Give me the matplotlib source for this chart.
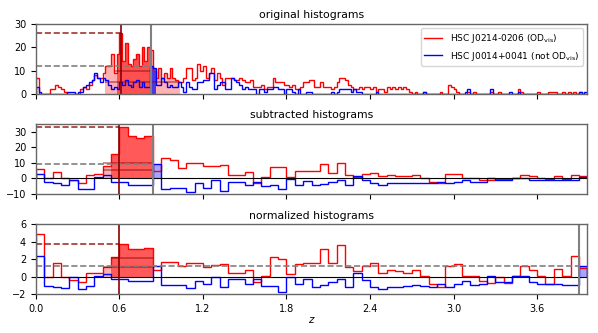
import numpy as np
import matplotlib
matplotlib.use('Agg')
import matplotlib.pyplot as plt

# ---- data ----
# original histograms, bin width 0.02 (z = 0 .. 3.96)
red_top = [
    7, 0, 0, 0, 0, 2, 2, 4, 3, 2,
    1, 0, 0, 0, 0, 0, 2, 3, 2, 4,
    6, 8, 7, 7, 9, 12, 12, 17, 9, 17,
    26, 14, 22, 13, 12, 15, 17, 12, 20, 14,
    20, 19, 10, 7, 11, 7, 9, 7, 11, 7,
    6, 5, 5, 7, 11, 11, 6, 7, 13, 10,
    12, 7, 9, 11, 6, 9, 7, 4, 7, 7,
    7, 6, 6, 7, 6, 5, 5, 6, 3, 3,
    3, 4, 2, 3, 3, 7, 5, 5, 5, 4,
    4, 3, 4, 2, 2, 3, 5, 5, 6, 6,
    3, 3, 5, 3, 3, 3, 2, 3, 5, 7,
    7, 6, 4, 3, 2, 2, 3, 2, 3, 3,
    2, 3, 1, 2, 2, 1, 3, 2, 3, 2,
    3, 2, 3, 2, 1, 0, 1, 0, 0, 1,
    0, 0, 0, 0, 0, 1, 0, 0, 4, 3,
    2, 1, 0, 0, 0, 1, 0, 1, 0, 0,
    0, 0, 0, 1, 0, 0, 1, 0, 0, 0,
    0, 0, 0, 2, 1, 0, 0, 0, 0, 0,
    1, 0, 0, 0, 1, 1, 1, 0, 0, 1,
    0, 1, 0, 1, 0, 1, 0, 0]
blue_top = [
    3, 1, 0, 0, 0, 0, 0, 0, 0, 0,
    0, 1, 1, 1, 0, 1, 1, 3, 4, 5,
    6, 9, 7, 5, 7, 6, 4, 2, 3, 2,
    5, 4, 6, 4, 3, 5, 6, 3, 5, 3,
    3, 12, 11, 4, 4, 7, 5, 3, 4, 3,
    3, 5, 3, 1, 5, 3, 2, 2, 5, 5,
    6, 6, 9, 9, 2, 4, 5, 5, 2, 2,
    7, 6, 5, 4, 2, 3, 2, 2, 2, 0,
    2, 2, 1, 2, 2, 3, 3, 2, 2, 0,
    2, 2, 1, 0, 2, 0, 0, 1, 1, 0,
    0, 0, 0, 0, 0, 0, 1, 0, 1, 2,
    2, 2, 2, 1, 2, 1, 1, 0, 0, 0,
    0, 0, 1, 0, 0, 0, 0, 0, 0, 0,
    0, 0, 0, 0, 0, 0, 0, 0, 0, 1,
    0, 0, 0, 0, 0, 0, 0, 0, 0, 0,
    0, 0, 0, 0, 1, 2, 0, 0, 0, 0,
    0, 0, 0, 2, 0, 0, 0, 0, 0, 0,
    1, 0, 0, 1, 0, 0, 0, 0, 0, 0,
    0, 0, 0, 0, 0, 0, 0, 0, 0, 0,
    0, 0, 0, 0, 0, 1, 0, 1]

# subtracted histograms, bin width 0.06
red_sub = [
    6, 0, 4, 0, -1, -3, 2, 3, 8, 16,
    33, 27, 26, 27, 5, 13, 12, 7, 10, 10,
    8, 8, 8.5, 2, 2, 4, -3, 1, 7.5, 7.5,
    1, 5, 5, 5, 9, 3.5, 10, 2.5, 1, 3,
    3.5, 1.5, 2, 1.3, 1.3, 2, 0, -2, -3, 3,
    3, 0, 0, -1, -1, -0.5, -0.5, 0, 2, 1.3,
    0, -0.5, 1.3, -0.5, 2, 1.3]
blue_sub = [
    3, -2, -3, -4, -1, -7, -7, 1, 2, -2,
    -2, -4, -4, -4, 9, -7, -6, -6, -9, -3,
    -6, -1, -8, -2, -2, -4, -2, -5, -4, -7,
    -0.5, -4, -1.5, -4, -3.5, -2.5, -1, -4, 1.5, -1,
    -3, -4, -3, -3, -3, -3, -3, -3, -2, -3,
    -2, -1, -2, -2, 0, -1, -1, 0, 0, -1,
    -1, -1, -1, -1, -1, 1]

# normalized histograms, bin width 0.06
red_norm = [
    4.9, 0.0, 1.6, 0.0, -0.35, -0.6, 0.35, 0.4, 1.1, 2.2,
    3.7, 3.2, 3.1, 3.3, 0.7, 1.7, 1.7, 1.2, 1.5, 1.6,
    1.1, 1.3, 1.4, 0.4, 0.4, 0.7, -0.6, 0.1, 2.2, 2.0,
    0.25, 1.4, 1.5, 1.6, 3.1, 1.5, 3.6, 1.1, 0.6, 1.2,
    1.6, 0.4, 0.8, 0.6, 0.45, 0.7, 0.05, -0.9, -1.2, 1.2,
    1.45, 0.05, 0.05, -0.5, -0.7, -0.05, -0.7, 0.05, 1.15, 0.7,
    0.05, -0.85, 0.9, 0.05, 2.3, 1.0]
blue_norm = [
    2.4, -1.05, -1.2, -1.3, 0.0, -1.4, -1.1, 0.1, 0.3, -0.3,
    -0.3, -0.5, -0.5, -0.5, 1.2, -0.95, -1.0, -1.0, -1.35, -0.5,
    -0.85, -0.1, -1.2, -0.3, -0.3, -0.8, -0.3, -1.1, -1.1, -1.8,
    -0.1, -0.8, -0.3, -1.15, -1.0, -0.6, -0.3, -1.2, 0.45, -0.4,
    -1.2, -1.45, -1.15, -1.15, -1.1, -1.0, -1.1, -1.2, -0.8, -1.15,
    -0.9, -0.5, -1.0, -0.85, 0.05, -0.6, -0.6, 0.05, 0.05, -0.6,
    -0.8, -0.85, -0.85, -1.0, -1.0, 1.2]

red_label = r'HSC J0214-0206 (OD$_{\rm vis}$)'
blue_label = r'HSC J0014+0041 (not OD$_{\rm vis}$)'


def fill_part(ax, edges, vals, lo, hi, **kw):
    # filled step histogram restricted to the z range [lo, hi]
    inner = edges[(edges > lo) & (edges < hi)]
    e = np.concatenate([[lo], inner, [hi]])
    idx = np.searchsorted(edges, e[:-1], side='right') - 1
    ax.stairs(np.asarray(vals)[idx], e, fill=True, baseline=0, lw=0, **kw)


edges_fine = np.arange(len(red_top) + 1) * 0.02
edges_wide = np.arange(len(red_sub) + 1) * 0.06
xmax = edges_wide[-1]

plt.rcParams['font.size'] = 7
plt.rcParams['axes.edgecolor'] = '0.4'
plt.rcParams['axes.linewidth'] = 1.0
fig, axes = plt.subplots(3, 1, figsize=(5.98, 3.33), dpi=100, sharex=True)
fig.subplots_adjust(left=0.06, right=0.982, top=0.928, bottom=0.117, hspace=0.43)

# ---- original histograms ----
ax = axes[0]
fill_part(ax, edges_fine, red_top, 0.495, 1.033, color='red', alpha=0.3)
fill_part(ax, edges_fine, red_top, 0.58, 0.83, color='red', alpha=0.55)
fill_part(ax, edges_fine, blue_top, 0.83, 0.866, color='blue', alpha=0.7)
ax.stairs(red_top, edges_fine, color='red', lw=1, label=red_label)
ax.stairs(blue_top, edges_fine, color='blue', lw=1, label=blue_label)
ax.hlines(10, 0.567, 0.83, color='darkred', alpha=0.5, lw=1.2)
ax.hlines(5, 0.495, 1.033, color='darkred', alpha=0.5, lw=1.2)
ax.hlines(26, 0, 0.61, color='darkred', ls='--', lw=1.2, alpha=0.8)
ax.hlines(12, 0, 0.83, color='gray', ls='--', lw=1.2)
ax.axvline(0.61, color='darkred', lw=1.2)
ax.axvline(0.83, color='gray', lw=1.5)
ax.set_ylim(0, 30)
ax.set_yticks([0, 10, 20, 30])
ax.set_title('original histograms', fontsize=7.8, pad=4)
ax.legend(loc='upper right', fontsize=6.5)

# ---- subtracted histograms ----
ax = axes[1]
fill_part(ax, edges_wide, red_sub, 0.48, 0.54, color='red', alpha=0.3)
fill_part(ax, edges_wide, red_sub, 0.54, 0.84, color='red', alpha=0.65)
fill_part(ax, edges_wide, blue_sub, 0.84, 0.90, color='blue', alpha=0.35)
ax.stairs(red_sub, edges_wide, color='red', lw=1)
ax.stairs(blue_sub, edges_wide, color='blue', lw=1)
ax.hlines(10.1, 0.48, 0.84, color='darkred', alpha=0.5, lw=1.2)
ax.hlines(5.4, 0.48, 0.84, color='darkred', alpha=0.5, lw=1.2)
ax.axhline(0, color='k', lw=0.8)
ax.hlines(33, 0, 0.6, color='darkred', ls='--', lw=1.2, alpha=0.8)
ax.hlines(9, 0, 0.84, color='gray', ls='--', lw=1.2)
ax.axvline(0.6, color='darkred', lw=1.2)
ax.axvline(0.84, color='gray', lw=1.5)
ax.set_ylim(-10, 35)
ax.set_yticks([-10, 0, 10, 20, 30])
ax.set_title('subtracted histograms', fontsize=7.8, pad=4)

# ---- normalized histograms ----
ax = axes[2]
fill_part(ax, edges_wide, red_norm, 0.48, 0.54, color='red', alpha=0.3)
fill_part(ax, edges_wide, red_norm, 0.54, 0.84, color='red', alpha=0.65)
fill_part(ax, edges_wide, blue_norm, 3.90, xmax, color='blue', alpha=0.35)
ax.stairs(red_norm, edges_wide, color='red', lw=1)
ax.stairs(blue_norm, edges_wide, color='blue', lw=1)
ax.hlines(2.1, 0.54, 0.84, color='darkred', alpha=0.5, lw=1.2)
ax.hlines(1.1, 0.48, 0.84, color='darkred', alpha=0.5, lw=1.2)
ax.axhline(0, color='k', lw=0.8)
ax.hlines(3.7, 0, 0.6, color='darkred', ls='--', lw=1.2, alpha=0.8)
ax.hlines(1.2, 0, 3.90, color='gray', ls='--', lw=1.2)
ax.axvline(0.6, color='darkred', lw=1.2)
ax.axvline(3.90, color='gray', lw=1.5)
ax.set_ylim(-2, 6)
ax.set_yticks([-2, 0, 2, 4, 6])
ax.set_title('normalized histograms', fontsize=7.8, pad=4)
ax.set_xlim(0, xmax)
ax.set_xticks(np.arange(0, 3.7, 0.6))
ax.set_xlabel('$z$', fontsize=7.5, labelpad=1)

plt.savefig('out.png')
